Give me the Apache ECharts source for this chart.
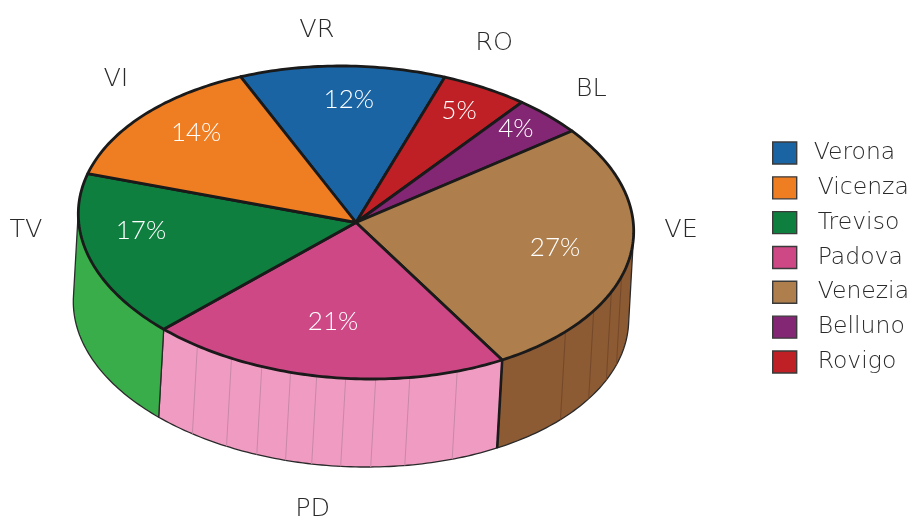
<!DOCTYPE html>
<html><head><meta charset="utf-8">
<style>html,body{margin:0;padding:0;background:#fff}#c{width:911px;height:517px}</style>
<script src="https://cdn.jsdelivr.net/npm/echarts@6/dist/echarts.min.js"></script>
</head><body><div id="c"></div>
<script>
// --- data, in clockwise slice order ---
var codes = ['VR','RO','BL','VE','PD','TV','VI'];
var names = ['Verona','Rovigo','Belluno','Venezia','Padova','Treviso','Vicenza'];
var shares = [12,5,4,27,21,17,14];
var legendOrder = ['Verona','Vicenza','Treviso','Padova','Venezia','Belluno','Rovigo'];

// --- styles ---
var topColors  = ['#1a64a4','#be2026','#832673','#ae7e4c','#cf4886','#0f7f40','#ef7d22'];
var wallColors = [null,null,null,'#8c5a33','#f09cc2','#39ad4a',null];
var ruleColors = [null,null,null,'#74482a','#c888a8',null,null];
// --- layout: ellipse projection of the disc, and the frame used to place labels ---
var C=[356,222.5], U=[277.5,2.8], V=[10.5,156.5], E=[-5,88], START=-22.4;
var LC=[356,224.5], LU=[277,6], LV=[16,158], INNER_DY=-2;
var innerRho=[.78,.835,.87,.723,.642,.785,.774], innerShift=[2.2,-.1,-1.2,-1.4,2.5,7.6,2.8];
var outerRho=[1.227,1.297,1.265,1.174,1.832,1.199,1.205], outerShift=[-2.5,-3.9,-.6,-12.2,0,9.4,5];
var wallRules=[[],[],[],[109.2,115.3,123.3,133.2],[160.8,171,178.1,184.3,190.3,195.8,202,208.8,217],[],[]];
var FONT='"DejaVu Sans"', PCT_FONT='Lato';

var total=shares.reduce(function(a,b){return a+b},0);
function toAngle(v){return echarts.number.linearMap(v,[0,total],[START,START+360]);}
function P(deg,rho){var t=(deg-90)*Math.PI/180,c=Math.cos(t)*rho,s=Math.sin(t)*rho;
  return [C[0]+U[0]*c+V[0]*s, C[1]+U[1]*c+V[1]*s];}
function L(deg,rho){var t=(deg-90)*Math.PI/180,c=Math.cos(t)*rho,s=Math.sin(t)*rho;
  return [LC[0]+LU[0]*c+LV[0]*s, LC[1]+LU[1]*c+LV[1]*s];}
var tanT=Math.atan2(V[0]*E[1]-V[1]*E[0],U[0]*E[1]-U[1]*E[0])*180/Math.PI;
var wallFrom=tanT+90, wallTo=wallFrom+180;
function arc(a,b){var out=[],n=Math.max(2,Math.ceil(Math.abs(b-a)));
  for(var i=0;i<=n;i++)out.push(P(a+(b-a)*i/n,1));return out;}

function item(idx){
  return function(params,api){
    var val=api.value(0), before=0;
    for(var i=0;i<idx;i++)before+=shares[i];
    var a=toAngle(before), b=toAngle(before+val), mid=(a+b)/2, kids=[];
    kids.push({type:'polygon',z2:5,shape:{points:[C].concat(arc(a,b))},
      style:{fill:topColors[idx],stroke:'#1a1a1a',lineWidth:2.8,lineJoin:'round'}});
    if(wallColors[idx]){
      var w0=Math.max(a,wallFrom), w1=Math.min(b,wallTo);
      var tp=arc(w0,w1), bt=tp.map(function(p){return [p[0]+E[0],p[1]+E[1]];}).reverse();
      kids.push({type:'polygon',z2:1,shape:{points:tp.concat(bt)},
        style:{fill:wallColors[idx],stroke:'#2a2a2a',lineWidth:1.3,lineJoin:'round'}});
      wallRules[idx].forEach(function(d){var p=P(d,1);
        kids.push({type:'line',z2:2,shape:{x1:p[0],y1:p[1],x2:p[0]+E[0],y2:p[1]+E[1]},
          style:{stroke:ruleColors[idx],lineWidth:1}});});
      if(idx===3){var q=P(b,1);
        kids.push({type:'line',z2:3,shape:{x1:q[0],y1:q[1],x2:q[0]+E[0],y2:q[1]+E[1]},
          style:{stroke:'#1a1a1a',lineWidth:2.6}});}
    }
    var ip=L(mid+innerShift[idx],innerRho[idx]);
    kids.push({type:'text',z2:8,x:ip[0],y:ip[1]+INNER_DY,style:{text:val+'%',fill:'#fff',font:'300 26px '+PCT_FONT,align:'center',verticalAlign:'middle'}});
    var op=L(mid+outerShift[idx],outerRho[idx]);
    kids.push({type:'text',z2:8,x:op[0],y:op[1],style:{text:codes[idx],fill:'#2a2a2a',font:'200 25.5px '+FONT,align:'center',verticalAlign:'middle'}});
    return {type:'group',children:kids};
  };
}

var chart=echarts.init(document.getElementById('c'),null,{renderer:'canvas'});
chart.setOption({
  animation:false,
  backgroundColor:'#fff',
  legend:{
    left:772, top:141, padding:0, orient:'vertical', selectedMode:false,
    itemWidth:24, itemHeight:22, itemGap:10.83, icon:'rect',
    itemStyle:{borderColor:'#3a3a3a',borderWidth:1.4},
    textStyle:{fontFamily:FONT,fontWeight:200,fontSize:23.5,color:'#2a2a2a',padding:[0,0,0,16]},
    data:legendOrder.map(function(n,i){return i===0?{name:n,icon:'rect',textStyle:{padding:[0,0,0,12]}}:{name:n,icon:'rect'};})
  },
  series:codes.map(function(c,i){
    return {type:'custom',name:names[i],coordinateSystem:'none',silent:true,
      itemStyle:{color:topColors[i]},renderItem:item(i),data:[[shares[i]]]};
  })
});
</script></body></html>
